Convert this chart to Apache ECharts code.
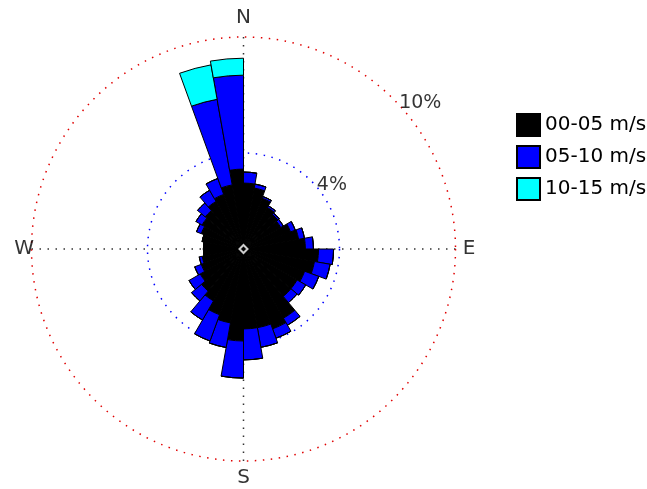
<!DOCTYPE html>
<html><head><meta charset="utf-8">
<script src="https://cdn.jsdelivr.net/npm/echarts@6/dist/echarts.min.js"></script>
<style>html,body{margin:0;padding:0;background:#fff}#c{width:647px;height:489px}</style>
</head><body><div id="c"></div>
<script>
// ---- data ----
const directions = ['5','15','25','35','45','55','65','75','85','95','105','115','125','135','145','155','165','175',
  '185','195','205','215','225','235','245','255','265','275','285','295','305','315','325','335','345','355'];
const speedClasses = ['00-05 m/s', '05-10 m/s', '10-15 m/s'];
const freq0005 = [3.11,2.92,2.55,2.26,2.12,2.03,2.36,2.64,2.92,3.54,3.40,3.07,2.92,2.92,3.77,4.01,3.77,3.77,
  4.34,3.54,3.30,2.83,2.59,2.36,2.12,1.98,1.89,1.89,1.98,2.12,2.26,2.36,2.59,2.74,3.07,3.77];
const freq0510 = [0.52,0.19,0.09,0.09,0.09,0.14,0.24,0.28,0.38,0.71,0.75,0.71,0.47,0.38,0.38,0.47,0.94,1.46,
  1.75,1.18,1.32,1.04,0.61,0.61,0.33,0.14,0,0,0,0.24,0.33,0.47,0.61,0.80,4.10,4.43];
const freq1015 = [0,0,0,0,0,0,0,0,0,0,0,0,0,0,0,0,0,0,
  0,0,0,0,0,0,0,0,0,0,0,0,0,0,0,0,1.65,0.80];
const compassNames = ['N','E','S','W'];
const compassAngles = [0, 90, 180, 270];
const ringLabels = ['4%', '10%'];
const ringValues = [4, 10];

// ---- layout (pixels / label placement) ----
const CX = 243.5, CY = 249, R = 212, R_INNER = 96;
const compassLabelRadius = [10.9, 10.64, 10.8, 10.35];
const ringLabelPos = [[5.15, 54.1], [10.82, 50.4]];
const FONT = 'DejaVu Sans';
const colors = ['#000000', '#0000ff', '#00ffff'];

const chart = echarts.init(document.getElementById('c'), null, {renderer: 'canvas'});
const dots = (c) => ({color: c, width: 1.5, type: [1.5, 6.5]});
const series = [freq0005, freq0510, freq1015].map((arr, i) => ({
  name: speedClasses[i], type: 'bar', coordinateSystem: 'polar', polarIndex: 1,
  stack: 'wind', data: arr, barCategoryGap: '0%',
  itemStyle: {color: colors[i], borderColor: '#000', borderWidth: 1}, z: 3
}));
series.push({
  type: 'scatter', coordinateSystem: 'polar', polarIndex: 0, silent: true, z: 5,
  symbol: 'diamond', symbolSize: 8, data: [[0, 0]],
  itemStyle: {color: '#000', borderColor: '#fff', borderWidth: 2}
});
series.push({
  type: 'scatter', coordinateSystem: 'polar', polarIndex: 3, silent: true, symbolSize: 0,
  data: compassNames.map((n, i) => ({name: n, value: [compassLabelRadius[i], compassAngles[i]]})),
  label: {show: true, position: 'inside', formatter: '{b}', color: '#000', fontFamily: FONT, fontSize: 20}
});
series.push({
  type: 'scatter', coordinateSystem: 'polar', polarIndex: 3, silent: true, symbolSize: 0,
  data: ringLabels.map((n, i) => ({name: n, value: ringLabelPos[i]})),
  label: {show: true, position: 'inside', formatter: '{b}', color: '#000', fontFamily: FONT, fontSize: 19}
});

const hiddenAngle = (idx) => ({polarIndex: idx, type: 'value', min: 0, max: 360, startAngle: 90, clockwise: true, show: false});

chart.setOption({
  animation: false,
  backgroundColor: '#fff',
  polar: [
    {center: [CX, CY], radius: R},
    {center: [CX, CY], radius: R},
    {center: [CX, CY], radius: R_INNER},
    {center: [CX, CY], radius: R * 1.2}
  ],
  angleAxis: [
    {polarIndex: 0, type: 'value', min: 0, max: 360, interval: 90, startAngle: 90, clockwise: true,
     axisLine: {show: true, lineStyle: dots('#e00000')}, splitLine: {show: true, lineStyle: dots('#333')},
     axisTick: {show: false}, axisLabel: {show: false}, z: 1},
    {polarIndex: 1, type: 'category', data: directions, startAngle: 90, clockwise: true, boundaryGap: true,
     axisLine: {show: false}, axisTick: {show: false}, axisLabel: {show: false}, splitLine: {show: false}},
    {polarIndex: 2, type: 'value', min: 0, max: 360, startAngle: 90, clockwise: true,
     axisLine: {show: true, lineStyle: dots('#0000ff')}, splitLine: {show: false},
     axisTick: {show: false}, axisLabel: {show: false}, z: 1},
    hiddenAngle(3)
  ],
  radiusAxis: [
    {polarIndex: 0, type: 'value', min: 0, max: ringValues[1], show: false},
    {polarIndex: 1, type: 'value', min: 0, max: ringValues[1], show: false},
    {polarIndex: 2, type: 'value', min: 0, max: ringValues[0], show: false},
    {polarIndex: 3, type: 'value', min: 0, max: ringValues[1] * 1.2, show: false}
  ],
  legend: {
    data: speedClasses, orient: 'vertical', left: 516, top: 113, padding: 0,
    itemWidth: 23, itemHeight: 22, itemGap: 8,
    selectedMode: false, icon: 'rect',
    textStyle: {fontFamily: FONT, fontSize: 20, color: '#000'}
  },
  series: series
});
</script></body></html>
